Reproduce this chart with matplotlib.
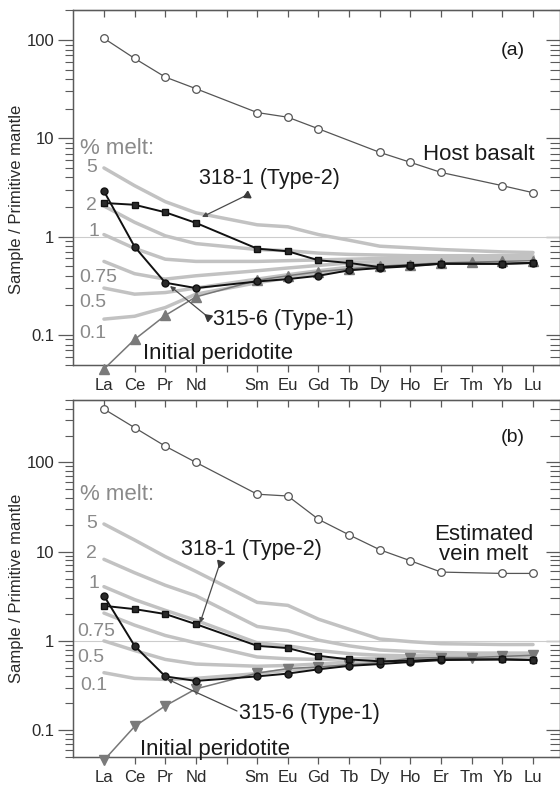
import matplotlib
matplotlib.use('Agg')
import matplotlib.pyplot as plt
import numpy as np

plt.rcParams['font.family'] = ['Liberation Sans', 'DejaVu Sans']

# REE order (Pm has a tick but no label or data)
ree = ['La', 'Ce', 'Pr', 'Nd', 'Pm', 'Sm', 'Eu', 'Gd', 'Tb', 'Dy', 'Ho', 'Er', 'Tm', 'Yb', 'Lu']
ree_labels = ['La', 'Ce', 'Pr', 'Nd', '', 'Sm', 'Eu', 'Gd', 'Tb', 'Dy', 'Ho', 'Er', 'Tm', 'Yb', 'Lu']

els_all = ['La', 'Ce', 'Pr', 'Nd', 'Sm', 'Eu', 'Gd', 'Tb', 'Dy', 'Ho', 'Er', 'Tm', 'Yb', 'Lu']
els_smp = ['La', 'Ce', 'Pr', 'Nd', 'Sm', 'Eu', 'Gd', 'Tb', 'Dy', 'Ho', 'Er', 'Yb', 'Lu']
els_host = ['La', 'Ce', 'Pr', 'Nd', 'Sm', 'Eu', 'Gd', 'Dy', 'Ho', 'Er', 'Yb', 'Lu']
els_vein = ['La', 'Ce', 'Pr', 'Nd', 'Sm', 'Eu', 'Gd', 'Tb', 'Dy', 'Ho', 'Er', 'Yb', 'Lu']

# (a) host basalt model
host_basalt = [104, 65, 42, 32, 18.3, 16.4, 12.5, 7.2, 5.7, 4.5, 3.3, 2.8]
s318_a = [2.2, 2.11, 1.77, 1.38, 0.755, 0.71, 0.575, 0.54, 0.49, 0.51, 0.53, 0.53, 0.54]
s315_a = [2.9, 0.79, 0.34, 0.30, 0.35, 0.37, 0.40, 0.455, 0.48, 0.50, 0.53, 0.53, 0.54]
perid_a = [0.045, 0.09, 0.158, 0.244, 0.36, 0.40, 0.44, 0.47, 0.50, 0.52, 0.54, 0.55, 0.56, 0.57]
melt_pct = ['5', '2', '1', '0.75', '0.5', '0.1']
melt_a = [
    [5.0, 3.3, 2.27, 1.75, 1.32, 1.26, 1.05, 0.92, 0.80, 0.77, 0.74, 0.72, 0.70, 0.69],
    [2.05, 1.4, 1.02, 0.85, 0.74, 0.72, 0.68, 0.66, 0.65, 0.64, 0.64, 0.64, 0.64, 0.64],
    [1.05, 0.76, 0.59, 0.56, 0.56, 0.57, 0.58, 0.59, 0.60, 0.61, 0.61, 0.62, 0.62, 0.62],
    [0.56, 0.42, 0.37, 0.40, 0.45, 0.48, 0.51, 0.54, 0.56, 0.58, 0.59, 0.60, 0.61, 0.61],
    [0.30, 0.26, 0.27, 0.30, 0.37, 0.41, 0.45, 0.49, 0.52, 0.55, 0.57, 0.58, 0.59, 0.60],
    [0.145, 0.155, 0.19, 0.26, 0.34, 0.38, 0.42, 0.46, 0.50, 0.53, 0.55, 0.57, 0.58, 0.59],
]

# (b) estimated vein melt model
vein_melt = [396, 245, 152, 100, 44, 42, 23, 15.4, 10.5, 7.9, 5.9, 5.7, 5.7]
s318_b = [2.47, 2.27, 2.0, 1.54, 0.88, 0.83, 0.68, 0.62, 0.59, 0.60, 0.62, 0.62, 0.61]
s315_b = [3.2, 0.88, 0.40, 0.356, 0.40, 0.43, 0.48, 0.525, 0.55, 0.58, 0.61, 0.62, 0.61]
perid_b = [0.046, 0.11, 0.187, 0.29, 0.435, 0.49, 0.51, 0.54, 0.57, 0.64, 0.65, 0.65, 0.67, 0.69]
melt_b = [
    [20.4, 13.5, 8.8, 6.0, 2.7, 2.5, 1.75, 1.35, 1.05, 0.98, 0.93, 0.92, 0.91, 0.91],
    [8.2, 5.8, 4.2, 3.2, 1.45, 1.3, 1.02, 0.88, 0.79, 0.76, 0.74, 0.73, 0.73, 0.73],
    [4.05, 2.9, 2.2, 1.7, 0.95, 0.88, 0.78, 0.72, 0.69, 0.68, 0.68, 0.68, 0.68, 0.68],
    [2.05, 1.5, 1.15, 0.95, 0.66, 0.63, 0.62, 0.63, 0.64, 0.65, 0.66, 0.66, 0.67, 0.67],
    [1.0, 0.78, 0.62, 0.55, 0.52, 0.53, 0.55, 0.58, 0.60, 0.62, 0.64, 0.65, 0.66, 0.66],
    [0.44, 0.38, 0.37, 0.38, 0.43, 0.47, 0.50, 0.54, 0.57, 0.60, 0.62, 0.63, 0.64, 0.65],
]


def xs(els):
    return [ree.index(e) for e in els]


W, H = 560, 787
fig = plt.figure(figsize=(W / 100, H / 100), dpi=100)

SPINE = '#5a5a5a'
MELT = '#c2c2c2'
LABEL = '#1a1a1a'
PCT = '#8a8a8a'


def make_axes(top_px, bot_px, ylim):
    ax = fig.add_axes([73 / W, 1 - bot_px / H, 1 - 73 / W, (bot_px - top_px) / H])
    ax.set_yscale('log')
    ax.set_xlim(-1.01, 14.88)
    ax.set_ylim(*ylim)
    ax.set_xticks(range(len(ree)))
    ax.set_xticklabels(ree_labels)
    ax.set_yticks([0.1, 1, 10, 100])
    ax.set_yticklabels(['0.1', '1', '10', '100'])
    ax.tick_params(axis='y', which='major', direction='out', length=10.5, width=0.9,
                   color=SPINE, labelsize=12, labelcolor='#2a2a2a', pad=3)
    ax.tick_params(axis='y', which='minor', direction='out', length=5.5, width=0.8, color=SPINE)
    ax.yaxis.set_minor_formatter(plt.NullFormatter())
    ax.tick_params(axis='x', direction='out', length=5, width=0.9, color=SPINE,
                   labelsize=12, labelcolor='#2a2a2a', pad=4)
    for s in ax.spines.values():
        s.set_color(SPINE)
        s.set_linewidth(1.0)

    # inward ticks on top and right
    top = ax.secondary_xaxis('top')
    top.set_xticks(range(len(ree)))
    top.set_xticklabels([''] * len(ree))
    top.tick_params(direction='in', length=5, width=0.9, color=SPINE)
    top.spines['top'].set_color(SPINE)

    rt = ax.twinx()
    rt.set_yscale('log')
    rt.set_ylim(*ylim)
    rt.set_yticks([0.1, 1, 10, 100])
    rt.yaxis.set_major_formatter(plt.NullFormatter())
    rt.yaxis.set_minor_formatter(plt.NullFormatter())
    rt.tick_params(which='major', direction='in', length=10, width=0.9, color=SPINE)
    rt.tick_params(which='minor', direction='in', length=7, width=0.8, color=SPINE)
    for s in rt.spines.values():
        s.set_color(SPINE)
    ax.set_zorder(rt.get_zorder() + 1)
    ax.patch.set_visible(False)

    ax.axhline(1, color='#cccccc', lw=0.8, zorder=0)
    return ax


def px(ax, x_px, y_px):
    # figure pixel -> data coordinates
    inv = ax.transData.inverted()
    return inv.transform((x_px, H - y_px))


def label(ax, x_px, y_px, s, size, color=LABEL, ha='left'):
    x, y = px(ax, x_px, y_px)
    ax.text(x, y, s, fontsize=size, color=color, ha=ha, va='center', zorder=10)


def arrow(ax, tail_px, head_px, fletch=True):
    tx, ty = px(ax, *tail_px)
    hx, hy = px(ax, *head_px)
    ax.annotate('', xy=(hx, hy), xytext=(tx, ty),
                arrowprops=dict(arrowstyle='-|>', color='#4a4a4a', lw=0.9,
                                mutation_scale=7, shrinkA=0, shrinkB=0), zorder=9)
    if fletch:
        # small feather at the tail, pointing along the shaft
        ang = np.degrees(np.arctan2(-(head_px[1] - tail_px[1]), head_px[0] - tail_px[0]))
        ax.plot(tx, ty, marker=(3, 0, ang - 90), ms=6, color='#3a3a3a', zorder=9, clip_on=False)


def draw_panel(ax, model_els, model, melts, s318, s315, perid, tri):
    for m in melts:
        ax.plot(xs(els_all), m, color=MELT, lw=2.5, solid_capstyle='round', zorder=1)
    ax.plot(xs(els_all), perid, color='#777777', lw=1.1, marker=tri, ms=7,
            mfc='#7a7a7a', mec='#7a7a7a', zorder=3, clip_on=False)
    ax.plot(xs(els_smp), s318, color='#111111', lw=1.4, marker='s', ms=5,
            mfc='#2a2a2a', mec='#111111', zorder=5)
    ax.plot(xs(els_smp), s315, color='#111111', lw=1.4, marker='o', ms=5,
            mfc='#2a2a2a', mec='#111111', zorder=4)
    ax.plot(xs(model_els), model, color='#555555', lw=0.9, marker='o', ms=5.5,
            mfc='white', mec='#555555', mew=0.9, zorder=5)


# ---- (a) ----
ax1 = make_axes(10, 365, (0.0495, 202))
draw_panel(ax1, els_host, host_basalt, melt_a, s318_a, s315_a, perid_a, '^')
label(ax1, 80, 148, '% melt:', 16, PCT)
for s, (lx, ly) in zip(melt_pct, [(86, 168), (86, 206), (89, 232), (79, 277), (79, 302), (79, 333)]):
    label(ax1, lx, ly, s, 14, PCT)
label(ax1, 513, 50, '(a)', 14, LABEL, ha='center')
label(ax1, 423, 154, 'Host basalt', 16)
label(ax1, 199, 178, '318-1 (Type-2)', 15.5)
label(ax1, 213, 320, '315-6 (Type-1)', 15.5)
label(ax1, 143, 353, 'Initial peridotite', 16)
arrow(ax1, (247, 195), (202, 217))
arrow(ax1, (208, 317), (170, 286))

# ---- (b) ----
ax2 = make_axes(400, 757, (0.05, 500))
draw_panel(ax2, els_vein, vein_melt, melt_b, s318_b, s315_b, perid_b, 'v')
label(ax2, 80, 495, '% melt:', 16, PCT)
for s, (lx, ly) in zip(melt_pct, [(86, 523), (86, 553), (89, 584), (77, 632), (77, 657), (80, 686)]):
    label(ax2, lx, ly, s, 14, PCT)
label(ax2, 513, 438, '(b)', 14, LABEL, ha='center')
label(ax2, 484, 534, 'Estimated', 16, ha='center')
label(ax2, 484, 554, 'vein melt', 16, ha='center')
label(ax2, 181, 550, '318-1 (Type-2)', 15.5)
label(ax2, 239, 713, '315-6 (Type-1)', 15.5)
label(ax2, 140, 749, 'Initial peridotite', 16)
arrow(ax2, (220, 563), (200, 623))
arrow(ax2, (237, 711), (167, 679), fletch=False)

for yc in (199, 588):
    fig.text(17 / W, 1 - yc / H, 'Sample / Primitive mantle', rotation=90,
             ha='center', va='center', fontsize=12, color='#2a2a2a')

fig.savefig('out.png', dpi=100)
